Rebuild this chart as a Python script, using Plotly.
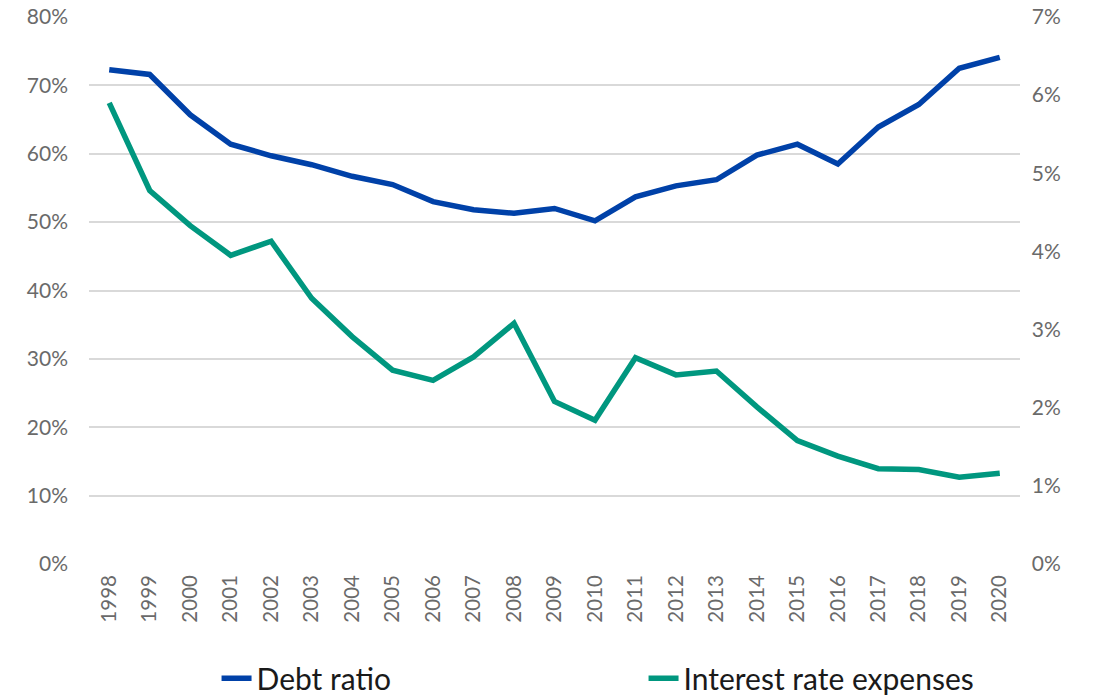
import plotly.graph_objects as go

years = [str(y) for y in range(1998, 2021)]

# Debt ratio, % (left axis)
debt_ratio = [72.3, 71.6, 65.7, 61.4, 59.7, 58.4, 56.7, 55.5, 53.0, 51.8, 51.3, 52.0,
              50.2, 53.7, 55.3, 56.2, 59.8, 61.4, 58.5, 63.9, 67.2, 72.5, 74.1]

# Interest rate expenses, % (right axis)
interest_expenses = [5.90, 4.78, 4.33, 3.95, 4.13, 3.40, 2.91, 2.48, 2.35, 2.65, 3.08, 2.08,
                     1.84, 2.64, 2.42, 2.47, 2.01, 1.58, 1.38, 1.22, 1.21, 1.11, 1.16]

left_ticks = [0, 10, 20, 30, 40, 50, 60, 70, 80]
right_ticks = [0, 1, 2, 3, 4, 5, 6, 7]

BLUE = "#0041a8"
GREEN = "#00977f"
GRID = "#d9d9d9"
TICK_COLOR = "#6a6a6a"
FONT = "Lato"
PAD = "\u00a0\u00a0"  # extra gap between plot edge and right-hand labels

fig = go.Figure()
fig.add_trace(go.Scatter(
    x=years, y=debt_ratio, name="Debt ratio", mode="lines",
    line=dict(color=BLUE, width=5.5), yaxis="y",
))
fig.add_trace(go.Scatter(
    x=years, y=interest_expenses, name="Interest rate expenses", mode="lines",
    line=dict(color=GREEN, width=5.5), yaxis="y2",
))

fig.update_layout(
    width=1107, height=697,
    margin=dict(l=89, r=87, t=17, b=133, autoexpand=False),
    paper_bgcolor="white", plot_bgcolor="white",
    font=dict(family=FONT, color=TICK_COLOR),
    xaxis=dict(
        type="category", range=[-0.5, 22.5],
        tickangle=-90, tickfont=dict(size=20.5, color=TICK_COLOR, family=FONT),
        showgrid=False, showline=False, zeroline=False, ticks="",
        ticklabelstandoff=6,
    ),
    yaxis=dict(
        range=[0, 80], tickvals=left_ticks, ticktext=[f"{v}%" for v in left_ticks],
        showgrid=True, gridcolor=GRID, gridwidth=2, zeroline=False, showline=False,
        tickfont=dict(size=21, color=TICK_COLOR, family=FONT),
        ticklabelstandoff=20,
    ),
    yaxis2=dict(
        range=[0, 7], tickvals=right_ticks, ticktext=[f"{PAD}{v}%" for v in right_ticks],
        overlaying="y", side="right", showgrid=False, zeroline=False, showline=False,
        tickfont=dict(size=21, color=TICK_COLOR, family=FONT),
        ticks="",
    ),
    legend=dict(
        orientation="h", x=0.137, xanchor="left", y=-0.209, yanchor="middle",
        font=dict(size=30, color="#1a1a1a", family=FONT),
        entrywidth=382, entrywidthmode="pixels",
        bgcolor="rgba(0,0,0,0)",
    ),
)

fig.write_html("out.html")
